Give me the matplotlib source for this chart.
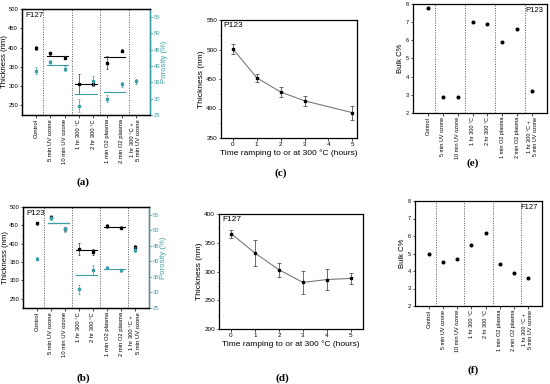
import numpy as np
import matplotlib
matplotlib.use("Agg")
import matplotlib.pyplot as plt
from matplotlib.ticker import MultipleLocator, AutoMinorLocator

plt.rcParams['font.family'] = ['Liberation Sans', 'DejaVu Sans']

nan = np.nan
categories = ["Control", "5 min UV ozone", "10 min UV ozone", "1 hr 300 \u00b0C",
              "2 hr 300 \u00b0C", "1 min O2 plasma", "2 min O2 plasma",
              "1 hr 300 \u00b0C +\n5 min UV ozone"]

# Panel (a) F127
a_thick = [398, 385, 374, 305, 305, 361, 392, nan]
a_thick_err = [5, 4, 4, 26, 6, 16, 4, nan]
a_por = [38.6, 41.1, 39.2, 27.9, 35.4, 30.0, 34.4, 35.3]
a_por_err = [1.0, 0.8, 0.8, 2.0, 1.5, 1.0, 0.7, 0.8]
a_thick_mean = [379, 305, 375]
a_por_mean = [40.2, 31.3, 32.1]

# Panel (b) P123
b_thick = [456, 472, 441, 386, 377, 449, 444, 391]
b_thick_err = [4, 4, 5, 16, 8, 5, 5, 5]
b_por = [40.9, 54.0, 50.3, 31.0, 37.2, 37.9, 37.1, 43.8]
b_por_err = [0.5, 0.8, 0.8, 1.5, 1.5, 0.5, 0.5, 0.8]
b_thick_mean = [455.5, 382, 444.5]
b_por_mean = [52.2, 35.5, 37.5]

# Panels (c), (d)
c_time = [0, 1, 2, 3, 5]
c_thick = [501, 452, 428, 413, 393]
c_err = [8, 7, 8, 9, 12]
d_time = [0, 1, 2, 3, 4, 5]
d_thick = [366, 332, 303, 281, 286, 288]
d_err = [7, 22, 12, 20, 18, 10]

# Panels (e), (f)
e_bulk = [7.76, 2.9, 2.9, 7.0, 6.9, 5.9, 6.6, 3.2]
f_bulk = [5.0, 4.5, 4.7, 5.5, 6.2, 4.4, 3.9, 3.6]

groups = [(1, 2), (3, 4), (5, 6)]
dividers = [0.5, 2.5, 4.5, 6.5]

TEAL = '#3b9ea6'
fig = plt.figure(figsize=(5.5, 3.84), dpi=100)

def frac(l, r, t, b):
    W, H = 550, 384
    return [l / W, 1 - b / H, (r - l) / W, (b - t) / H]

def style(ax, fs=4.2):
    ax.tick_params(labelsize=fs, length=1.8, width=0.5, direction='out', pad=1)
    for s in ax.spines.values():
        s.set_linewidth(0.9)

def cat_axis(ax):
    x = np.arange(len(categories))
    ax.set_xticks(x)
    ax.set_xticklabels(categories, rotation=90, fontsize=5.2, va='top', ha='center',
                       linespacing=1.3)
    ax.set_xlim(-1, 8)
    for d in dividers:
        ax.axvline(d, color='#555555', ls=(0, (1, 1.5)), lw=0.7)

def porosity_panel(rect, thick, terr, por, perr, tmean, pmean, name):
    ax = fig.add_axes(rect)
    x = np.arange(len(categories))
    cat_axis(ax)
    ax.errorbar(x, thick, yerr=terr, fmt='s', ms=1.7, color='black', ecolor='#333333',
                elinewidth=0.5, capsize=0.9, capthick=0.5, zorder=3)
    ax.set_ylim(225, 500)
    ax.yaxis.set_minor_locator(AutoMinorLocator(2))
    ax.set_yticks([250, 300, 350, 400, 450, 500])
    ax.set_ylabel("Thickness (nm)", fontsize=5.6, labelpad=0.5)
    style(ax)
    ax.tick_params(axis='y', which='minor', length=1, width=0.4)
    ax.text(0.03, 0.97, name, transform=ax.transAxes, fontsize=5.8, va='top', ha='left')
    ax2 = ax.twinx()
    ax2.errorbar(x, por, yerr=perr, fmt='s', ms=1.5, color=TEAL, ecolor=TEAL,
                 elinewidth=0.5, capsize=0.9, capthick=0.5, zorder=4)
    ax2.set_ylim(25, 57.5)
    ax2.set_yticks([25, 30, 35, 40, 45, 50, 55])
    ax2.yaxis.set_minor_locator(AutoMinorLocator(2))
    ax2.set_ylabel("Porosity (%)", fontsize=5.6, color=TEAL, labelpad=0.5)
    style(ax2)
    ax2.tick_params(axis='y', colors=TEAL, which='both')
    ax2.tick_params(axis='y', which='minor', length=1, width=0.4)
    ax2.spines['right'].set_color(TEAL)
    for (g0, g1), tm, pm in zip(groups, tmean, pmean):
        ax2.plot([g0 - 0.25, g1 + 0.25], [pm, pm], color=TEAL, lw=0.8, zorder=2)
        ax.plot([g0 - 0.25, g1 + 0.25], [tm, tm], color='black', lw=0.8, zorder=2)
    return ax

def time_panel(rect, t, th, err, ylim, yt, xlim, name):
    ax = fig.add_axes(rect)
    ax.errorbar(t, th, yerr=err, fmt='-s', ms=1.8, color='#7a7a7a', mfc='black', mec='black',
                ecolor='#333333', lw=0.8, elinewidth=0.5, capsize=1.1, capthick=0.5)
    ax.set_ylim(*ylim)
    ax.set_yticks(yt)
    ax.yaxis.set_minor_locator(AutoMinorLocator(2))
    ax.set_xlim(*xlim)
    ax.set_xticks([0, 1, 2, 3, 4, 5])
    ax.set_ylabel("Thickness (nm)", fontsize=6, labelpad=1)
    ax.set_xlabel("Time ramping to or at 300 \u00b0C (hours)", fontsize=6, labelpad=2)
    style(ax, 4.6)
    ax.tick_params(axis='y', which='minor', length=1, width=0.4)
    ax.text(0.02, 0.98, name, transform=ax.transAxes, fontsize=6, va='top', ha='left')
    return ax

def bulk_panel(rect, vals, name):
    ax = fig.add_axes(rect)
    x = np.arange(len(categories))
    cat_axis(ax)
    ax.plot(x, vals, 'o', ms=1.9, color='black', zorder=3)
    ax.set_ylim(2, 8)
    ax.set_yticks([2, 3, 4, 5, 6, 7, 8])
    ax.set_ylabel("Bulk C%", fontsize=5.5, labelpad=1)
    style(ax, 4.0)
    ax.text(0.97, 0.97, name, transform=ax.transAxes, fontsize=5.5, va='top', ha='right')
    return ax

porosity_panel(frac(22, 150, 9, 115), a_thick, a_thick_err, a_por, a_por_err,
               a_thick_mean, a_por_mean, "F127")
porosity_panel(frac(23, 149, 207, 308), b_thick, b_thick_err, b_por, b_por_err,
               b_thick_mean, b_por_mean, "P123")
time_panel(frac(221, 357, 20, 138), c_time, c_thick, c_err, (350, 550),
           [350, 400, 450, 500, 550], (-0.5, 5.2), "P123")
time_panel(frac(219, 363, 214, 329), d_time, d_thick, d_err, (200, 400),
           [200, 250, 300, 350, 400], (-0.5, 5.5), "F127")
bulk_panel(frac(413, 547, 4, 113), e_bulk, "P123")
bulk_panel(frac(415, 542, 201, 306), f_bulk, "F127")

for lab, (px, py) in zip(["(a)", "(b)", "(c)", "(d)", "(e)", "(f)"],
                         [(83, 182), (83, 378), (281, 173), (282, 378), (473, 163), (473, 370)]):
    fig.text(px / 550, 1 - py / 384, lab, fontsize=8, fontweight='bold',
             family=['Liberation Serif', 'DejaVu Serif'], ha='center', va='center')

fig.savefig("out.png", dpi=100)
